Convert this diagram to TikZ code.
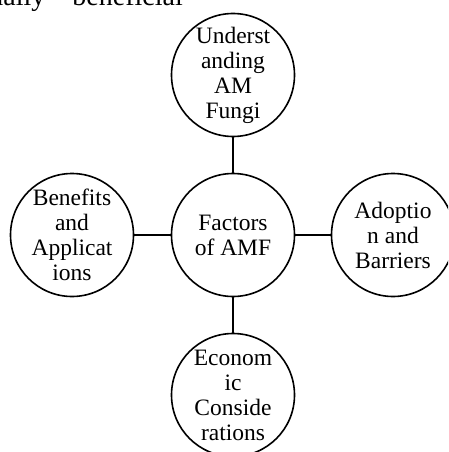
\documentclass[tikz,border=0pt]{standalone}
\usepackage{fontspec}
\setmainfont{Liberation Serif}
\begin{document}
\begin{tikzpicture}[x=1pt,y=-1pt,
  topic/.style={circle, draw, line width=1.6pt, minimum size=123pt, inner sep=0pt, align=center, font=\fontsize{23.5}{25}\selectfont},
  link/.style={line width=1.6pt}]
\useasboundingbox (0,0) rectangle (448,452);
\clip (0,0) rectangle (448,452);
\node[anchor=base east, font=\fontsize{28}{30}\selectfont, inner sep=0pt] (cap) at (183,6) {ually\hspace{27pt}beneficial};
\node[topic] (c) at (233,235) {Factors\\of AMF};
\node[topic] (t) at (233,75) {Underst\\anding\\AM\\Fungi};
\node[topic] (l) at (72,235) {Benefits\\and\\Applicat\\ions};
\node[topic] (r) at (393,235) {Adoptio\\n and\\Barriers};
\node[topic] (b) at (233,395) {Econom\\ic\\Conside\\rations};
\draw[link] (c) -- (t);
\draw[link] (c) -- (l);
\draw[link] (c) -- (r);
\draw[link] (c) -- (b);
\end{tikzpicture}
\end{document}
